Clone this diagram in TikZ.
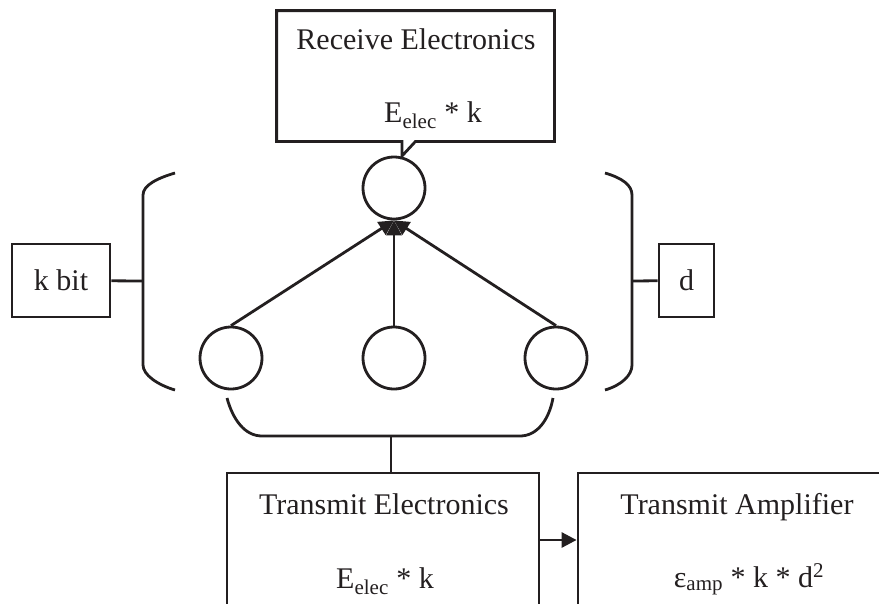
\documentclass[tikz,border=0pt]{standalone}
\usepackage{fontspec}
\setmainfont{Liberation Serif}
\usepackage{tikz}
\usetikzlibrary{positioning,calc,arrows.meta}
\definecolor{ink}{RGB}{35,31,32}

\begin{document}
\begin{tikzpicture}[x=1pt, y=-1pt, line width=2.8pt, color=ink,
    box/.style={draw, rectangle, inner sep=0pt, font=\fontsize{30}{36}\selectfont},
    txt/.style={anchor=base, inner sep=0pt, font=\fontsize{30}{36}\selectfont},
    unit/.style={draw, circle, minimum size=62pt, inner sep=0pt},
    feed/.style={-{Triangle[length=15pt,width=15pt]}}]
    \useasboundingbox (0,0) rectangle (879,603);
    \clip (0,0) rectangle (879,603);

    % receiving node and its callout
    \node[unit] (top) at (394,188) {};
    \node[inner sep=0pt, minimum width=275pt, minimum height=128pt] (rx) at (415.5,76) {};
    \coordinate (tip) at (402,156);
    \draw[line join=miter] (rx.south west) -- (rx.north west) -- (rx.north east) -- (rx.south east)
        -- (rx.south) -- (tip) -- ($(rx.south)+(-13.5,0)$) -- cycle;
    \node[txt] (rxname) at (416,49) {Receive Electronics};
    \node[txt] (rxcost) at (433,122) {E\textsubscript{elec} * k};

    % sending nodes
    \node[unit] (left) at (231,358) {};
    \node[unit] (mid) at (394,358) {};
    \node[unit] (right) at (556,358) {};
    \foreach \n in {left,mid,right} {
        \draw[feed] (\n.north) -- (top.south);
    }

    % left brace: message size
    \draw (175,173) .. controls (158,178) and (143,185) .. (143,195) -- (143,365)
        .. controls (143,375) and (158,385) .. (175,390);
    \coordinate (lbr) at (143,281);
    \node[box, minimum width=98pt, minimum height=73pt] (kbit) at (61,280.5) {k bit};
    \draw (kbit) -- (lbr);

    % right brace: distance
    \draw (605,173) .. controls (622,178) and (632,185) .. (632,195) -- (632,365)
        .. controls (632,375) and (622,385) .. (605,390);
    \coordinate (rbr) at (632,281);
    \node[box, minimum width=55pt, minimum height=73pt] (dist) at (686.5,280.5) {d};
    \draw (rbr) -- (dist);

    % bottom brace to transmitter
    \draw (227,398) .. controls (233,420) and (245,436) .. (262,436) -- (520,436)
        .. controls (537,436) and (549,420) .. (553,398);
    \coordinate (bbr) at (391,436);
    \node[box, minimum width=312pt, minimum height=134pt] (tx) at (383,540) {};
    \node[box, minimum width=318pt, minimum height=134pt] (amp) at (737,540) {};
    \draw (bbr) -- (bbr |- tx.north);
    \draw[feed] (tx) -- (amp);

    \node[txt] (txname) at (384,514) {Transmit Electronics};
    \node[txt] (txcost) at (385,588) {E\textsubscript{elec} * k};
    \node[txt] (ampname) at (737,514) {Transmit Amplifier};
    \node[txt] (ampcost) at (749,587) {ε\textsubscript{amp} * k * d\textsuperscript{2}};
\end{tikzpicture}
\end{document}
